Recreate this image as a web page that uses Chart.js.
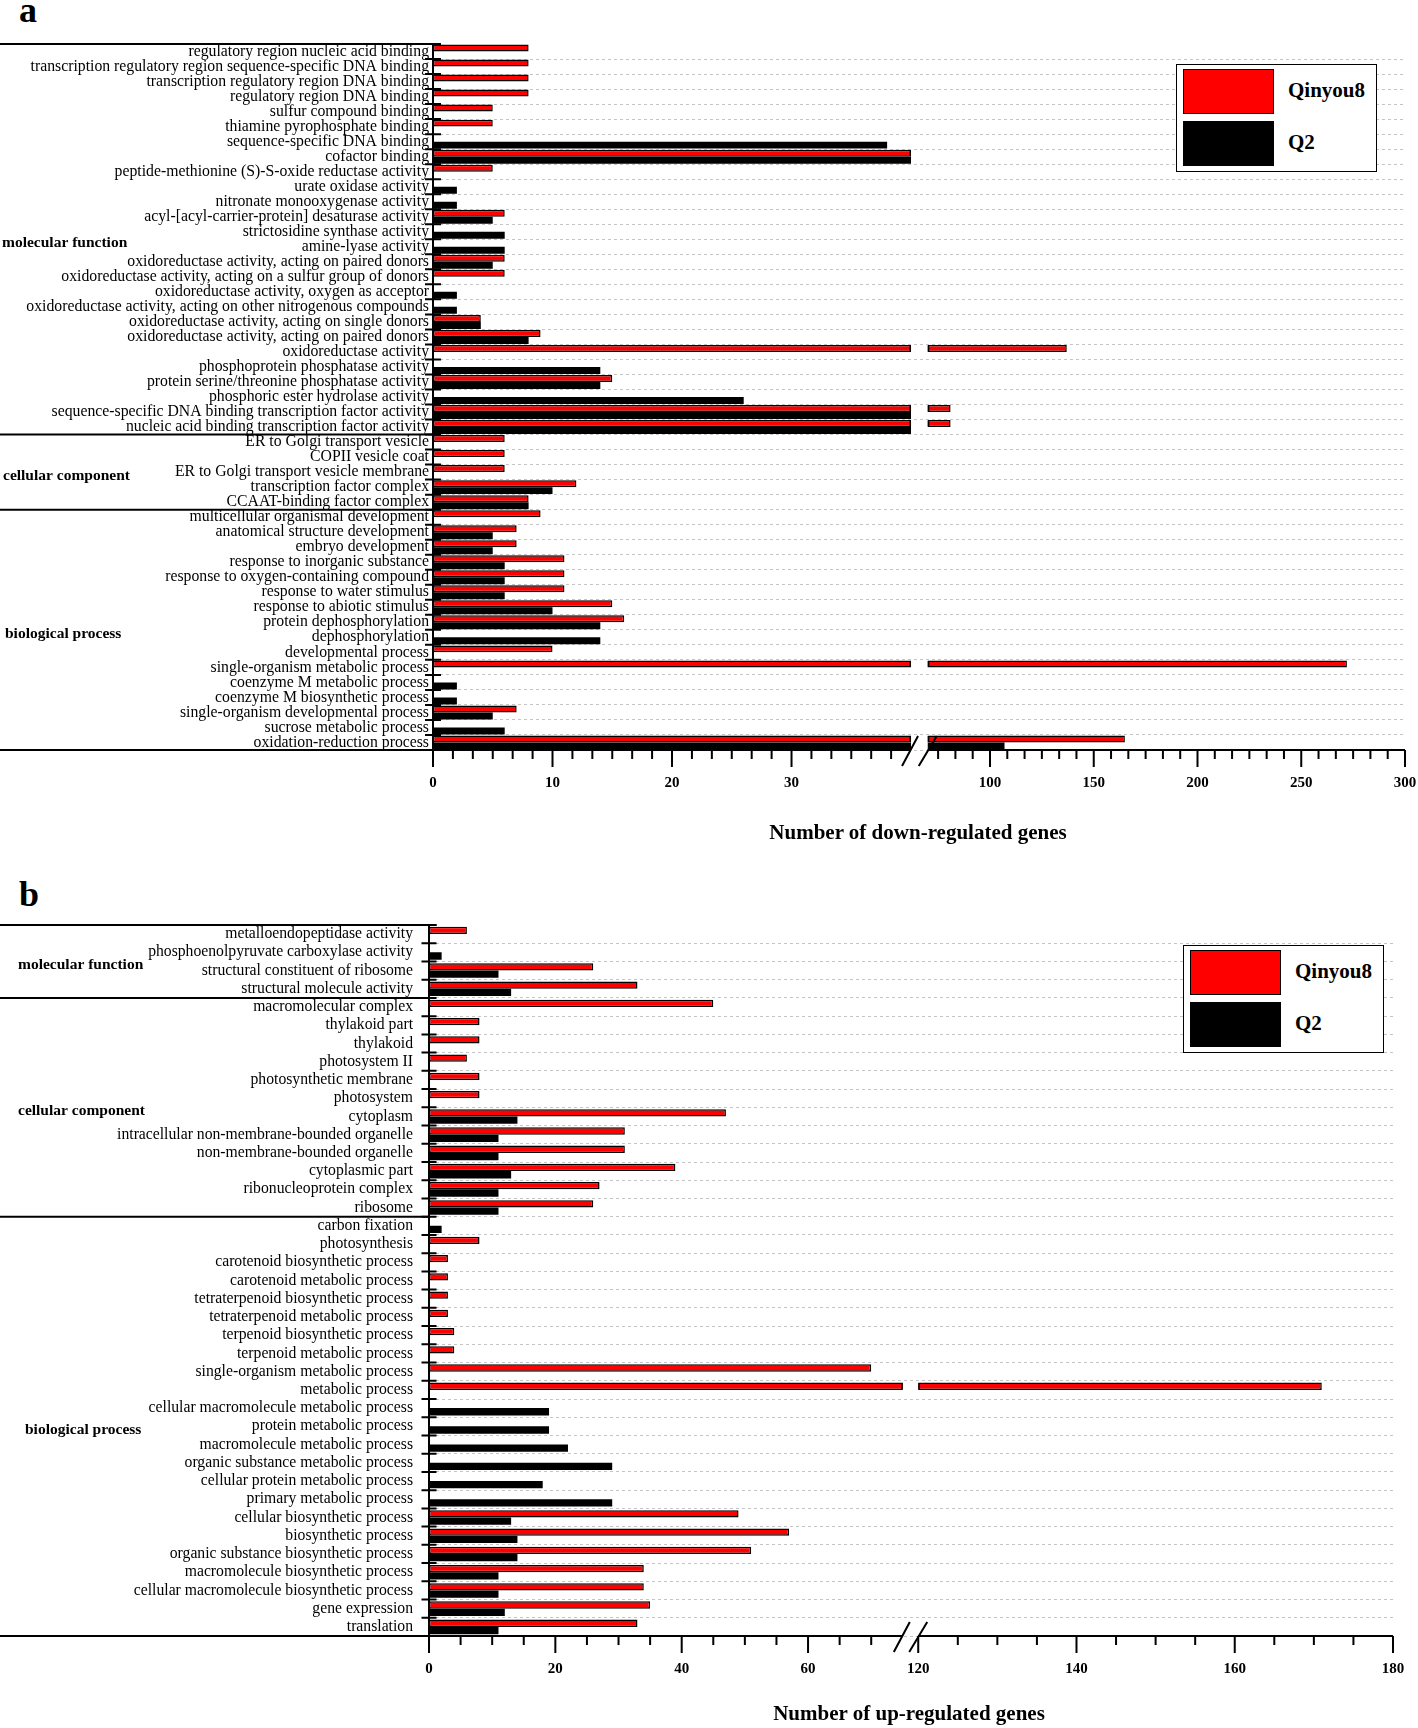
<!DOCTYPE html>
<html>
<head>
<meta charset="utf-8">
<script src="https://cdn.jsdelivr.net/npm/chart.js@4.4.0/dist/chart.umd.min.js"></script>
<style>
  body { margin: 0; background: #fff; }
  #page { position: relative; width: 1418px; height: 1728px; overflow: hidden; font-family: "Liberation Serif", "Times New Roman", serif; color: #000; }
  canvas { position: absolute; left: 0; }
  .tag { position: absolute; font-weight: bold; font-size: 36px; line-height: 36px; }
  .x-title { position: absolute; font-weight: bold; font-size: 21px; line-height: 21px; white-space: nowrap; transform: translateX(-50%); }
  .legend { position: absolute; width: 199px; height: 106px; border: 1px solid #000; background: #fff; }
  .legend .swatch { position: absolute; left: 6px; width: 89px; height: 43px; border: 1.5px solid #000; }
  .legend .name { position: absolute; left: 111px; font-weight: bold; font-size: 21px; line-height: 21px; white-space: nowrap; }
</style>
</head>
<body>
<div id="page">
  <div class="tag" style="left:19px; top:-8px;">a</div>
  <canvas id="chartDown" width="1418" height="860" style="top:0px;"></canvas>
  <div class="legend" id="legendDown" style="left:1176px; top:64px;"></div>
  <div class="x-title" style="left:918px; top:822px;">Number of down-regulated genes</div>

  <div class="tag" style="left:19px; top:876px;">b</div>
  <canvas id="chartUp" width="1418" height="868" style="top:860px;"></canvas>
  <div class="legend" id="legendUp" style="left:1183px; top:945px;"></div>
  <div class="x-title" style="left:909px; top:1703px;">Number of up-regulated genes</div>
</div>
<script>
// Series names
const seriesNames = ['Qinyou8', 'Q2'];
const seriesColors = ['#ff0000', '#000000'];

// Panel a: down-regulated genes
const downLabels = [
    'regulatory region nucleic acid binding',
    'transcription regulatory region sequence-specific DNA binding',
    'transcription regulatory region DNA binding',
    'regulatory region DNA binding',
    'sulfur compound binding',
    'thiamine pyrophosphate binding',
    'sequence-specific DNA binding',
    'cofactor binding',
    'peptide-methionine (S)-S-oxide reductase activity',
    'urate oxidase activity',
    'nitronate monooxygenase activity',
    'acyl-[acyl-carrier-protein] desaturase activity',
    'strictosidine synthase activity',
    'amine-lyase activity',
    'oxidoreductase activity, acting on paired donors',
    'oxidoreductase activity, acting on a sulfur group of donors',
    'oxidoreductase activity, oxygen as acceptor',
    'oxidoreductase activity, acting on other nitrogenous compounds',
    'oxidoreductase activity, acting on single donors',
    'oxidoreductase activity, acting on paired donors',
    'oxidoreductase activity',
    'phosphoprotein phosphatase activity',
    'protein serine/threonine phosphatase activity',
    'phosphoric ester hydrolase activity',
    'sequence-specific DNA binding transcription factor activity',
    'nucleic acid binding transcription factor activity',
    'ER to Golgi transport vesicle',
    'COPII vesicle coat',
    'ER to Golgi transport vesicle membrane',
    'transcription factor complex',
    'CCAAT-binding factor complex',
    'multicellular organismal development',
    'anatomical structure development',
    'embryo development',
    'response to inorganic substance',
    'response to oxygen-containing compound',
    'response to water stimulus',
    'response to abiotic stimulus',
    'protein dephosphorylation',
    'dephosphorylation',
    'developmental process',
    'single-organism metabolic process',
    'coenzyme M metabolic process',
    'coenzyme M biosynthetic process',
    'single-organism developmental process',
    'sucrose metabolic process',
    'oxidation-reduction process',
];
const downQinyou8 = [8, 8, 8, 8, 5, 5, 0, 45, 5, 0, 0, 6, 0, 0, 6, 6, 0, 0, 4, 9, 137, 0, 15, 0, 81, 81,
    6, 6, 6, 12, 8,
    9, 7, 7, 11, 11, 11, 15, 16, 0, 10, 272, 0, 0, 7, 0, 165];
const downQ2 = [0, 0, 0, 0, 0, 0, 38, 45, 0, 2, 2, 5, 6, 6, 5, 0, 2, 2, 4, 8, 0, 14, 14, 26, 55, 55,
    0, 0, 0, 10, 8,
    0, 5, 5, 6, 6, 6, 10, 14, 14, 0, 0, 2, 2, 5, 6, 107];
const downGroupNames = ['molecular function', 'cellular component', 'biological process'];
const downGroupSizes = [26, 5, 16];
const downTicks = [0, 10, 20, 30, 100, 150, 200, 250, 300];
const downBreak = [40, 70];

// Panel b: up-regulated genes
const upLabels = [
    'metalloendopeptidase activity',
    'phosphoenolpyruvate carboxylase activity',
    'structural constituent of ribosome',
    'structural molecule activity',
    'macromolecular complex',
    'thylakoid part',
    'thylakoid',
    'photosystem II',
    'photosynthetic membrane',
    'photosystem',
    'cytoplasm',
    'intracellular non-membrane-bounded organelle',
    'non-membrane-bounded organelle',
    'cytoplasmic part',
    'ribonucleoprotein complex',
    'ribosome',
    'carbon fixation',
    'photosynthesis',
    'carotenoid biosynthetic process',
    'carotenoid metabolic process',
    'tetraterpenoid biosynthetic process',
    'tetraterpenoid metabolic process',
    'terpenoid biosynthetic process',
    'terpenoid metabolic process',
    'single-organism metabolic process',
    'metabolic process',
    'cellular macromolecule metabolic process',
    'protein metabolic process',
    'macromolecule metabolic process',
    'organic substance metabolic process',
    'cellular protein metabolic process',
    'primary metabolic process',
    'cellular biosynthetic process',
    'biosynthetic process',
    'organic substance biosynthetic process',
    'macromolecule biosynthetic process',
    'cellular macromolecule biosynthetic process',
    'gene expression',
    'translation',
];
const upQinyou8 = [6, 0, 26, 33,
    45, 8, 8, 6, 8, 8, 47, 31, 31, 39, 27, 26,
    0, 8, 3, 3, 3, 3, 4, 4, 70, 171, 0, 0, 0, 0, 0, 0, 49, 57, 51, 34, 34, 35, 33];
const upQ2 = [0, 2, 11, 13,
    0, 0, 0, 0, 0, 0, 14, 11, 11, 13, 11, 11,
    2, 0, 0, 0, 0, 0, 0, 0, 0, 0, 19, 19, 22, 29, 18, 29, 13, 14, 14, 11, 11, 12, 11];
const upGroupNames = ['molecular function', 'cellular component', 'biological process'];
const upGroupSizes = [4, 12, 23];
const upTicks = [0, 20, 40, 60, 120, 140, 160, 180];
const upBreak = [75, 120];

const FONT = '"Liberation Serif", "Times New Roman", serif';

// linear scale with a gap: [min..lo] then [hi..max], the gap squeezed to a thin slot
function makeBrokenScale(id, tickValues, range, fraction) {
    class BrokenScale extends Chart.LinearScale {
        buildTicks() {
            return tickValues.map(v => ({ value: v }));
        }
        getPixelForValue(v) {
            if (v === null || v === undefined || isNaN(v)) return NaN;
            const [lo, hi] = range;
            const [f0, f1] = fraction;
            let d;
            if (v <= lo) d = (v - this.min) / (lo - this.min) * f0;
            else if (v < hi) d = f0 + (v - lo) / (hi - lo) * (f1 - f0);
            else d = f1 + (v - hi) / (this.max - hi) * (1 - f1);
            return this.getPixelForDecimal(d);
        }
        getValueForPixel(p) {
            const d = this.getDecimalForPixel(p);
            const [lo, hi] = range;
            const [f0, f1] = fraction;
            if (d <= f0) return this.min + d / f0 * (lo - this.min);
            if (d < f1) return lo + (d - f0) / (f1 - f0) * (hi - lo);
            return hi + (d - f1) / (1 - f1) * (this.max - hi);
        }
    }
    BrokenScale.id = id;
    BrokenScale.defaults = {};
    Chart.register(BrokenScale);
}

makeBrokenScale('brokenDown', downTicks, downBreak, [0.4918, 0.5090]);
makeBrokenScale('brokenUp', upTicks, upBreak, [0.4915, 0.5075]);

// axis decorations: break, tick marks, group separators and group names
const brokenAxis = {
    id: 'brokenAxis',
    beforeDatasetsDraw(chart, args, o) {
        const { ctx, chartArea: a, scales: { x } } = chart;
        const g0 = x.getPixelForValue(o.breakRange[0]);
        const g1 = x.getPixelForValue(o.breakRange[1]);
        ctx.save();
        ctx.beginPath();
        ctx.rect(a.left - 5, a.top - 5, g0 - a.left + 5, a.bottom - a.top + 10);
        ctx.rect(g1, a.top - 5, a.right - g1 + 10, a.bottom - a.top + 10);
        ctx.clip();
    },
    afterDatasetsDraw(chart, args, o) {
        const { ctx, scales: { x } } = chart;
        ctx.restore();
        const g0 = x.getPixelForValue(o.breakRange[0]);
        const g1 = x.getPixelForValue(o.breakRange[1]);
        const meta = chart.getDatasetMeta(0);
        ctx.save();
        ctx.strokeStyle = '#000';
        ctx.lineWidth = 1.5;
        meta.data.forEach((bar, i) => {
            const v = chart.data.datasets[0].data[i];
            if (v > o.breakRange[0]) {
                const h = bar.height / 2 - 0.75;
                ctx.beginPath();
                ctx.moveTo(g0 - 0.75, bar.y - h); ctx.lineTo(g0 - 0.75, bar.y + h);
                if (v > o.breakRange[1]) { ctx.moveTo(g1 + 0.75, bar.y - h); ctx.lineTo(g1 + 0.75, bar.y + h); }
                ctx.stroke();
            }
        });
        ctx.restore();
    },
    afterDraw(chart, args, o) {
        const { ctx, chartArea: a, scales: { x, y } } = chart;
        const g0 = x.getPixelForValue(o.breakRange[0]);
        const g1 = x.getPixelForValue(o.breakRange[1]);
        ctx.save();
        ctx.strokeStyle = '#000';
        ctx.lineWidth = 2;

        // x axis line, broken
        ctx.beginPath();
        ctx.moveTo(0, a.bottom); ctx.lineTo(g0, a.bottom);
        ctx.moveTo(g1, a.bottom); ctx.lineTo(a.right, a.bottom);
        ctx.stroke();

        // major and minor x ticks
        const majors = x.ticks.map(t => t.value);
        ctx.beginPath();
        majors.forEach(v => {
            const px = x.getPixelForValue(v);
            ctx.moveTo(px, a.bottom); ctx.lineTo(px, a.bottom + 17);
        });
        const segs = [
            [x.min, o.breakRange[0], o.minorSteps[0], x.min],
            [o.breakRange[1], x.max, o.minorSteps[1], majors.find(v => v > o.breakRange[1])],
        ];
        segs.forEach(([s, e, step, anchor]) => {
            for (let k = -200; k <= 200; k++) {
                const v = anchor + k * step;
                if (v <= s + 1e-6 || v >= e - 1e-6) continue;
                if (majors.some(m => Math.abs(m - v) < 1e-6)) continue;
                const px = x.getPixelForValue(v);
                ctx.moveTo(px, a.bottom); ctx.lineTo(px, a.bottom + 9);
            }
        });
        ctx.stroke();

        // break slashes
        ctx.beginPath();
        ctx.moveTo(g0 - 9, a.bottom + 16); ctx.lineTo(g0 + 7, a.bottom - 14);
        ctx.moveTo(g1 - 9, a.bottom + 16); ctx.lineTo(g1 + 9, a.bottom - 14);
        ctx.stroke();

        // y tick marks at category boundaries
        const n = chart.data.labels.length;
        ctx.beginPath();
        for (let i = 0; i <= n; i++) {
            const py = y.getPixelForValue(i - 0.5);
            ctx.moveTo(a.left - o.yTick, py); ctx.lineTo(a.left + o.yTick, py);
        }
        ctx.stroke();

        // group separators and names
        let start = 0;
        ctx.font = 'bold 15.5px ' + FONT;
        ctx.fillStyle = '#000';
        ctx.textBaseline = 'middle';
        ctx.textAlign = 'left';
        ctx.beginPath();
        ctx.moveTo(0, y.getPixelForValue(-0.5)); ctx.lineTo(a.left + o.yTick, y.getPixelForValue(-0.5));
        o.groupSizes.forEach((size, gi) => {
            const top = y.getPixelForValue(start - 0.5);
            const bottom = y.getPixelForValue(start + size - 0.5);
            if (gi < o.groupSizes.length - 1) {
                ctx.moveTo(0, bottom); ctx.lineTo(a.left, bottom);
            }
            ctx.fillText(o.groupNames[gi], o.groupLabelX[gi], (top + bottom) / 2 + 4);
            start += size;
        });
        ctx.stroke();
        ctx.restore();
    },
};

function buildChart(canvasId, labels, red, black, scaleType, axisMax, geo, deco) {
    return new Chart(document.getElementById(canvasId), {
        type: 'bar',
        data: {
            labels: labels,
            datasets: [
                {
                    label: seriesNames[0],
                    data: red,
                    backgroundColor: seriesColors[0],
                    borderColor: '#000',
                    borderWidth: 1.5,
                    borderSkipped: false,
                    categoryPercentage: geo.catPct,
                    barPercentage: 1,
                },
                {
                    label: seriesNames[1],
                    data: black,
                    backgroundColor: seriesColors[1],
                    borderWidth: 0,
                    categoryPercentage: geo.catPct,
                    barPercentage: 1,
                },
            ],
        },
        options: {
            indexAxis: 'y',
            responsive: false,
            animation: false,
            devicePixelRatio: 1,
            layout: { padding: geo.padding },
            plugins: {
                legend: { display: false },
                tooltip: { enabled: false },
                brokenAxis: deco,
            },
            scales: {
                y: {
                    ticks: {
                        autoSkip: false,
                        color: '#000',
                        font: { family: FONT, size: geo.labelSize },
                        padding: geo.labelPad,
                    },
                    grid: {
                        drawTicks: false,
                        color: (c) => (c.index === 0 ? 'rgba(0,0,0,0)' : '#c4c4c4'),
                        lineWidth: 1,
                    },
                    border: { color: '#000', width: 2, dash: [3, 3] },
                    afterFit: (s) => { s.width = geo.yWidth; s.paddingTop = 0; s.paddingBottom = 0; },
                },
                x: {
                    type: scaleType,
                    min: 0,
                    max: axisMax,
                    grid: { display: false, drawTicks: false },
                    border: { display: false },
                    ticks: {
                        color: '#000',
                        font: { family: FONT, size: 15, weight: 'bold' },
                        padding: 24,
                        autoSkip: false,
                        maxRotation: 0,
                        callback: (v) => String(v),
                    },
                    afterFit: (s) => { s.height = 60; s.paddingLeft = 0; s.paddingRight = 0; },
                },
            },
        },
        plugins: [brokenAxis],
    });
}

buildChart('chartDown', downLabels, downQinyou8, downQ2, 'brokenDown', 300,
    { catPct: 0.93, padding: { left: 0, top: 44, right: 13, bottom: 50 }, labelSize: 15.75, labelPad: 4, yWidth: 433 },
    { breakRange: downBreak, minorSteps: [10 / 6, 50 / 6], yTick: 8, groupNames: downGroupNames, groupSizes: downGroupSizes, groupLabelX: [2, 3, 5] });

buildChart('chartUp', upLabels, upQinyou8, upQ2, 'brokenUp', 180,
    { catPct: 0.8, padding: { left: 0, top: 65, right: 25, bottom: 32 }, labelSize: 15.7, labelPad: 16, yWidth: 429 },
    { breakRange: upBreak, minorSteps: [5, 5], yTick: 7.5, groupNames: upGroupNames, groupSizes: upGroupSizes, groupLabelX: [18, 18, 25] });

// legends
function buildLegend(id) {
    const box = document.getElementById(id);
    seriesNames.forEach((name, i) => {
        const sw = document.createElement('div');
        sw.className = 'swatch';
        sw.style.top = (4 + i * 52) + 'px';
        sw.style.background = seriesColors[i];
        box.appendChild(sw);
        const tx = document.createElement('div');
        tx.className = 'name';
        tx.style.top = (15 + i * 52) + 'px';
        tx.textContent = name;
        box.appendChild(tx);
    });
}
buildLegend('legendDown');
buildLegend('legendUp');
</script>
</body>
</html>
